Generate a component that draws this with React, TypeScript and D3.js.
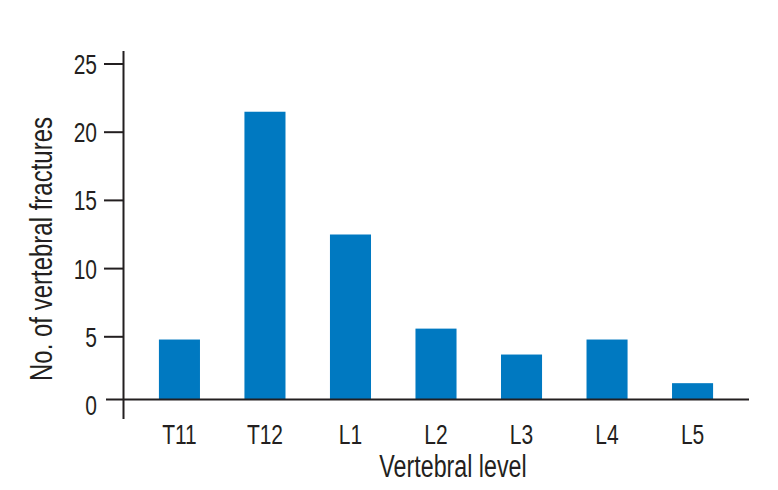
import React from "react";
import * as d3 from "d3";

const categories = ["T11", "T12", "L1", "L2", "L3", "L4", "L5"];
const fractures = [4.8, 21.5, 12.5, 5.6, 3.7, 4.8, 1.6];
const yTicks = [0, 5, 10, 15, 20, 25];
const xTitle = "Vertebral level";
const yTitle = "No. of vertebral fractures";

const W = 778;
const H = 490;
const FONT = "'Liberation Sans', Arial, sans-serif";
const NARROW = 0.75;
const INK = "#231f20";
const BAR = "#0079c1";

function NText({
  x,
  y,
  size,
  anchor = "middle",
  rotate = 0,
  dy,
  children,
}: {
  x: number;
  y: number;
  size: number;
  anchor?: string;
  rotate?: number;
  dy?: string;
  children: React.ReactNode;
}) {
  return (
    <g transform={`translate(${x},${y}) rotate(${rotate}) scale(${NARROW},1)`}>
      <text textAnchor={anchor} fontSize={size} dy={dy} fill={INK} fontFamily={FONT}>
        {children}
      </text>
    </g>
  );
}

export default function App() {
  const axisX = 123.5;
  const axisY = 399.5;
  const x = d3
    .scaleBand<string>()
    .domain(categories)
    .range([123, 749])
    .paddingInner(0.52)
    .paddingOuter(0.42);
  const y = d3.scaleLinear().domain([0, 25]).range([405, 64]);

  return (
    <svg
      width={W}
      height={H}
      style={{ position: "absolute", left: 0, top: 0, background: "#fff" }}
    >
      {categories.map((c, i) => (
        <rect
          key={c}
          x={x(c)}
          y={y(fractures[i])}
          width={x.bandwidth()}
          height={axisY - y(fractures[i])}
          fill={BAR}
        />
      ))}
      {/* y axis */}
      <line x1={axisX} x2={axisX} y1={51} y2={419} stroke={INK} strokeWidth={2} />
      {yTicks.map((t) => (
        <g key={t}>
          {t > 0 && (
            <line x1={104} x2={axisX} y1={y(t)} y2={y(t)} stroke={INK} strokeWidth={2} />
          )}
          <NText x={97} y={y(t)} size={28} anchor="end" dy="0.36em">
            {t}
          </NText>
        </g>
      ))}
      {/* x axis */}
      <line x1={106} x2={749} y1={axisY} y2={axisY} stroke={INK} strokeWidth={2} />
      {categories.map((c) => (
        <NText key={c} x={(x(c) as number) + x.bandwidth() / 2} y={444} size={28}>
          {c}
        </NText>
      ))}
      <NText x={453} y={477} size={31}>
        {xTitle}
      </NText>
      <NText x={52} y={249} size={32} rotate={-90}>
        {yTitle}
      </NText>
    </svg>
  );
}
